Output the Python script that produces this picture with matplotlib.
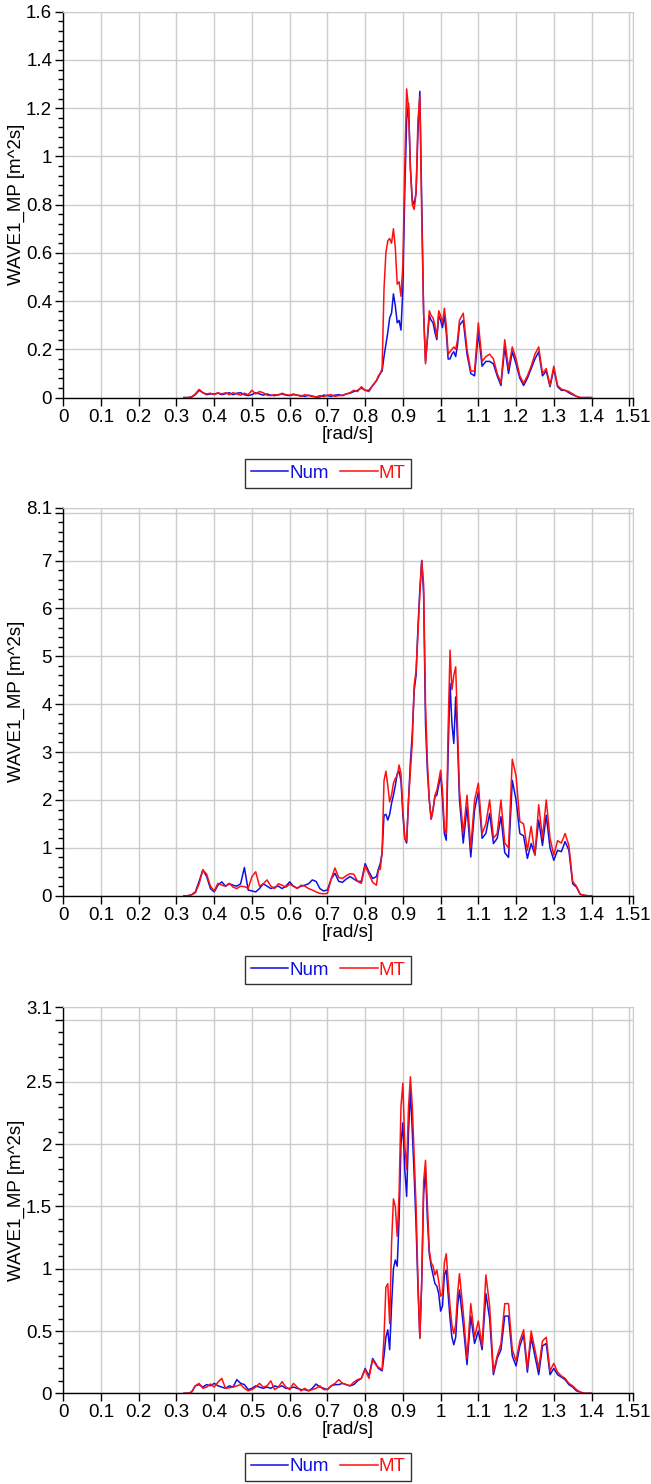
import numpy as np
import matplotlib.pyplot as plt
from matplotlib.ticker import FixedLocator, MultipleLocator

plt.rcParams['font.family'] = ['Liberation Sans', 'DejaVu Sans']

# sampling grid of the spectra (finer around the peak)
freq = np.round(np.concatenate([np.arange(0.32, 0.835, 0.01),
                                np.arange(0.835, 1.0525, 0.005),
                                np.arange(1.06, 1.405, 0.01)]), 3)

# panel 1
num1 = [0, 0, 0.002, 0.012, 0.03, 0.02, 0.012, 0.015, 0.015, 0.018,
        0.012, 0.016, 0.02, 0.012, 0.018, 0.02, 0.012, 0.008, 0.012, 0.02,
        0.015, 0.01, 0.015, 0.01, 0.008, 0.012, 0.015, 0.01, 0.008, 0.012,
        0.01, 0.008, 0.005, 0.01, 0.006, 0.002, 0.003, 0.01, 0.008, 0.005,
        0.01, 0.012, 0.008, 0.015, 0.018, 0.025, 0.03, 0.04, 0.03, 0.03,
        0.05, 0.07,
        0.085, 0.10, 0.11, 0.17, 0.22, 0.27, 0.33, 0.35, 0.43, 0.38,
        0.31, 0.32, 0.28, 0.45, 0.85, 1.15, 1.22, 0.95, 0.82, 0.80,
        0.85, 1.10, 1.27, 0.80, 0.35, 0.15, 0.24, 0.34, 0.32, 0.31,
        0.27, 0.24, 0.34, 0.32, 0.29, 0.34, 0.27, 0.16, 0.16, 0.18,
        0.19, 0.17, 0.22, 0.30,
        0.32, 0.18, 0.10, 0.09, 0.27, 0.13, 0.15, 0.15, 0.14, 0.09,
        0.05, 0.21, 0.10, 0.19, 0.14, 0.08, 0.05, 0.08, 0.12, 0.16,
        0.19, 0.09, 0.11, 0.045, 0.12, 0.045, 0.03, 0.03, 0.02, 0.012,
        0.005, 0, 0, 0, 0]
mt1 = [0, 0, 0.003, 0.015, 0.034, 0.02, 0.015, 0.018, 0.012, 0.02,
       0.015, 0.02, 0.012, 0.02, 0.015, 0.01, 0.018, 0.012, 0.03, 0.015,
       0.025, 0.02, 0.01, 0.008, 0.012, 0.01, 0.018, 0.012, 0.01, 0.015,
       0.01, 0.005, 0.012, 0.008, 0.005, 0.003, 0.008, 0.004, 0.01, 0.012,
       0.005, 0.008, 0.01, 0.015, 0.02, 0.03, 0.025, 0.045, 0.03, 0.025,
       0.05, 0.07,
       0.09, 0.10, 0.12, 0.45, 0.60, 0.65, 0.66, 0.64, 0.70, 0.62,
       0.47, 0.48, 0.42, 0.55, 0.95, 1.28, 1.20, 0.95, 0.80, 0.78,
       0.85, 1.15, 1.25, 0.75, 0.35, 0.14, 0.25, 0.36, 0.34, 0.33,
       0.30, 0.25, 0.36, 0.34, 0.31, 0.37, 0.30, 0.18, 0.19, 0.20,
       0.21, 0.20, 0.24, 0.32,
       0.35, 0.20, 0.11, 0.11, 0.31, 0.15, 0.17, 0.18, 0.16, 0.10,
       0.06, 0.24, 0.12, 0.21, 0.16, 0.09, 0.06, 0.09, 0.13, 0.18,
       0.21, 0.10, 0.12, 0.05, 0.13, 0.05, 0.035, 0.03, 0.025, 0.015,
       0.005, 0, 0, 0, 0]

# panel 2
num2 = [0, 0, 0.02, 0.08, 0.3, 0.54, 0.4, 0.15, 0.08, 0.22,
        0.29, 0.2, 0.25, 0.22, 0.2, 0.25, 0.59, 0.12, 0.1, 0.08,
        0.15, 0.25, 0.2, 0.15, 0.18, 0.2, 0.15, 0.2, 0.29, 0.2,
        0.16, 0.2, 0.22, 0.25, 0.33, 0.3, 0.15, 0.1, 0.12, 0.35,
        0.47, 0.3, 0.28, 0.35, 0.4, 0.35, 0.3, 0.3, 0.67, 0.5,
        0.36, 0.4,
        0.55, 0.67, 0.9, 1.68, 1.7, 1.58, 1.7, 1.93, 2.1, 2.3,
        2.55, 2.6, 2.4, 1.7, 1.2, 1.1, 2.0, 2.8, 3.4, 4.29,
        4.6, 5.6, 6.4, 7.0, 6.3, 3.6, 2.6, 2.0, 1.6, 1.8,
        2.07, 2.1, 2.3, 2.55, 2.0, 1.3, 1.16, 3.0, 4.43, 3.6,
        3.18, 4.15, 3.2, 2.0,
        1.1, 1.86, 0.81, 1.79, 2.17, 1.2, 1.3, 1.72, 1.09, 1.2,
        1.65, 0.9, 0.8, 2.41, 2.0, 1.3, 1.25, 0.78, 1.09, 0.85,
        1.58, 1.05, 1.68, 1.0, 0.74, 0.95, 0.92, 1.13, 0.95, 0.25,
        0.18, 0.03, 0.01, 0, 0]
mt2 = [0, 0, 0.02, 0.06, 0.25, 0.54, 0.45, 0.2, 0.1, 0.26,
       0.22, 0.2, 0.26, 0.18, 0.15, 0.2, 0.19, 0.15, 0.4, 0.5,
       0.2, 0.25, 0.33, 0.2, 0.15, 0.25, 0.22, 0.18, 0.24, 0.2,
       0.15, 0.22, 0.2, 0.15, 0.12, 0.08, 0.05, 0.04, 0.05, 0.35,
       0.58, 0.38, 0.36, 0.42, 0.46, 0.45, 0.3, 0.26, 0.62, 0.45,
       0.28, 0.22,
       0.54, 0.55, 0.9, 2.4, 2.6, 2.3, 1.96, 2.1, 2.35, 2.45,
       2.5, 2.73, 2.55, 1.8, 1.2, 1.15, 2.0, 2.6, 3.2, 4.4,
       4.7, 5.5, 6.3, 7.0, 6.5, 4.0, 2.8, 2.0, 1.6, 1.8,
       2.1, 2.2, 2.4, 2.62, 2.2, 1.4, 1.3, 3.5, 5.13, 4.3,
       4.6, 4.78, 3.5, 2.2,
       1.3, 2.1, 1.0, 2.0, 2.35, 1.3, 1.5, 2.0, 1.2, 1.3,
       2.0, 1.1, 1.0, 2.85, 2.5, 1.55, 1.5, 0.95, 1.45, 0.85,
       1.9, 1.2, 2.0, 1.2, 0.85, 1.15, 1.1, 1.3, 1.05, 0.3,
       0.2, 0.03, 0.01, 0, 0]

# panel 3
num3 = [0, 0, 0.01, 0.06, 0.07, 0.05, 0.07, 0.06, 0.08, 0.06,
        0.05, 0.04, 0.06, 0.05, 0.11, 0.08, 0.07, 0.03, 0.04, 0.06,
        0.05, 0.04, 0.05, 0.04, 0.06, 0.05, 0.06, 0.04, 0.04, 0.05,
        0.04, 0.03, 0.03, 0.02, 0.04, 0.075, 0.05, 0.04, 0.03, 0.06,
        0.07, 0.07, 0.08, 0.07, 0.06, 0.07, 0.1, 0.12, 0.2, 0.14,
        0.28, 0.23,
        0.2, 0.19, 0.18, 0.3, 0.45, 0.51, 0.35, 0.7, 1.0, 1.07,
        1.02, 1.4, 2.0, 2.17, 1.8, 1.58, 2.1, 2.43, 2.1, 1.75,
        1.35, 0.85, 0.45, 0.9, 1.6, 1.79, 1.4, 1.12, 1.02, 0.95,
        0.88, 0.86, 0.8, 0.66, 0.7, 0.95, 0.99, 0.8, 0.6, 0.45,
        0.39, 0.45, 0.7, 0.83,
        0.55, 0.23, 0.62, 0.4, 0.5, 0.35, 0.8, 0.6, 0.15, 0.28,
        0.35, 0.62, 0.62, 0.3, 0.22, 0.38, 0.47, 0.17, 0.45, 0.3,
        0.15, 0.38, 0.4, 0.15, 0.2, 0.15, 0.13, 0.11, 0.07, 0.05,
        0.02, 0.01, 0, 0, 0]
mt3 = [0, 0, 0.01, 0.06, 0.08, 0.04, 0.05, 0.075, 0.05, 0.09,
       0.12, 0.04, 0.045, 0.05, 0.06, 0.07, 0.04, 0.02, 0.03, 0.05,
       0.08, 0.05, 0.06, 0.1, 0.03, 0.05, 0.094, 0.05, 0.03, 0.08,
       0.05, 0.02, 0.04, 0.02, 0.03, 0.04, 0.06, 0.03, 0.03, 0.06,
       0.08, 0.11, 0.08, 0.07, 0.06, 0.09, 0.11, 0.12, 0.19, 0.12,
       0.27, 0.22,
       0.21, 0.2, 0.19, 0.45, 0.85, 0.88, 0.56, 1.2, 1.56, 1.5,
       1.26, 1.6, 2.3, 2.49, 2.0, 1.8, 2.3, 2.54, 2.3, 1.9,
       1.5, 0.9, 0.44, 0.9, 1.7, 1.87, 1.5, 1.15, 1.05, 1.02,
       0.95, 0.99, 0.9, 0.78, 0.8, 1.05, 1.12, 0.9, 0.7, 0.55,
       0.48, 0.55, 0.8, 0.96,
       0.65, 0.28, 0.72, 0.45, 0.58, 0.38, 0.95, 0.7, 0.17, 0.3,
       0.4, 0.72, 0.72, 0.35, 0.26, 0.42, 0.51, 0.2, 0.5, 0.35,
       0.2, 0.42, 0.45, 0.18, 0.24, 0.17, 0.14, 0.12, 0.08, 0.06,
       0.03, 0.01, 0, 0, 0]

x_ticks = [0, 0.1, 0.2, 0.3, 0.4, 0.5, 0.6, 0.7, 0.8, 0.9, 1.0,
           1.1, 1.2, 1.3, 1.4, 1.5, 1.51]
x_labels = ['0', '0.1', '0.2', '0.3', '0.4', '0.5', '0.6', '0.7', '0.8',
            '0.9', '1', '1.1', '1.2', '1.3', '1.4', '', '1.51']

y_ticks1 = [0, 0.2, 0.4, 0.6, 0.8, 1.0, 1.2, 1.4, 1.6]
y_labels1 = ['0', '0.2', '0.4', '0.6', '0.8', '1', '1.2', '1.4', '1.6']
y_ticks2 = [0, 1, 2, 3, 4, 5, 6, 7, 8, 8.1]
y_labels2 = ['0', '1', '2', '3', '4', '5', '6', '7', '', '8.1']
y_ticks3 = [0, 0.5, 1.0, 1.5, 2.0, 2.5, 3.0, 3.1]
y_labels3 = ['0', '0.5', '1', '1.5', '2', '2.5', '', '3.1']

panels = [
    (num1, mt1, y_ticks1, y_labels1, 0.04, [0.0972, 0.7321, 0.8752, 0.2600], 0.681),
    (num2, mt2, y_ticks2, y_labels2, 0.2, [0.0972, 0.3964, 0.8752, 0.2614], 0.3464),
    (num3, mt3, y_ticks3, y_labels3, 0.1, [0.0972, 0.0611, 0.8752, 0.2603], 0.0115),
]

grid_c = '#cccccc'
fs = 13.5
fig = plt.figure(figsize=(6.51, 14.84), dpi=100)

for num, mt, yt, yl, ymin_step, rect, leg_y in panels:
    ax = fig.add_axes(rect)
    l1, = ax.plot(freq, num, color='#1010e0', lw=1.1, label='Num')
    l2, = ax.plot(freq, mt, color='#ff1010', lw=1.1, label='MT')
    ax.set_xlim(0, 1.51)
    ax.set_ylim(0, yt[-1])
    ax.xaxis.set_major_locator(FixedLocator(x_ticks))
    ax.set_xticklabels(x_labels)
    ax.yaxis.set_major_locator(FixedLocator(yt))
    ax.set_yticklabels(yl)
    ax.yaxis.set_minor_locator(MultipleLocator(ymin_step))
    ax.tick_params(axis='both', which='major', length=6, width=1,
                   labelsize=fs, colors='black', pad=2)
    ax.tick_params(axis='y', which='minor', length=3.5, width=1)
    ax.grid(True, which='major', color=grid_c, lw=1)
    ax.set_axisbelow(True)
    for s in ['top', 'right']:
        ax.spines[s].set_color(grid_c)
    for s in ['left', 'bottom']:
        ax.spines[s].set_color('black')
        ax.spines[s].set_linewidth(1)
    ax.set_xlabel('[rad/s]', fontsize=fs, labelpad=0)
    ax.set_ylabel('WAVE1_MP [m^2s]', fontsize=fs)
    ax.yaxis.set_label_coords(-0.068, 0.5)
    leg = fig.legend(handles=[l1, l2], loc='center', bbox_to_anchor=(0.504, leg_y),
                     ncol=2, fontsize=fs, frameon=True, fancybox=False,
                     handlelength=2.0, handletextpad=0.05, columnspacing=0.6,
                     borderpad=0.3, borderaxespad=0)
    leg.get_frame().set_edgecolor('black')
    leg.get_frame().set_linewidth(1)
    for txt, c in zip(leg.get_texts(), ['#1010e0', '#ff1010']):
        txt.set_color(c)

fig.savefig('out.png', dpi=100)
